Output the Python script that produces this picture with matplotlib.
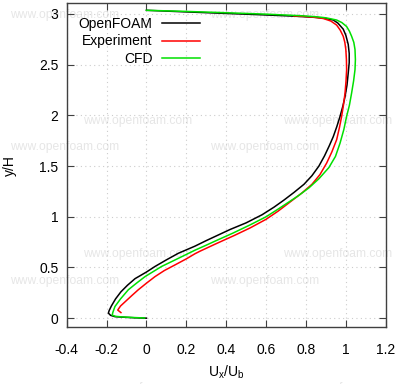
"""Velocity profile U_x/U_b over y/H: OpenFOAM vs experiment vs reference CFD."""
import matplotlib
matplotlib.use("Agg")
import matplotlib.pyplot as plt

plt.rcParams["font.family"] = ["Liberation Sans", "DejaVu Sans"]
plt.rcParams["mathtext.fontset"] = "custom"
plt.rcParams["mathtext.rm"] = "Liberation Sans"
plt.rcParams["mathtext.it"] = "Liberation Sans"

# --- data (x = Ux/Ub, y = y/H) ---
foam_x = [0.0, -0.06, -0.12, -0.158, -0.18, -0.191, -0.187, -0.176, -0.155, -0.128,
          -0.095, -0.057, 0.0, 0.043, 0.1, 0.16, 0.243, 0.3, 0.36, 0.42, 0.5, 0.58,
          0.64, 0.69, 0.74, 0.79, 0.83, 0.865, 0.893, 0.917, 0.937, 0.955, 0.971,
          0.985, 0.996, 1.006, 1.012, 1.017, 1.017, 1.012, 1.0, 0.987, 0.96, 0.937,
          0.9, 0.854, 0.8, 0.72, 0.6, 0.4, 0.2, 0.0]
foam_y = [0.0, 0.004, 0.01, 0.015, 0.028, 0.05, 0.075, 0.12, 0.19, 0.26,
          0.325, 0.39, 0.455, 0.51, 0.575, 0.64, 0.71, 0.765, 0.82, 0.875, 0.94, 1.02,
          1.095, 1.165, 1.24, 1.32, 1.405, 1.5, 1.6, 1.7, 1.79, 1.89, 1.99,
          2.09, 2.185, 2.3, 2.416, 2.52, 2.61, 2.7, 2.79, 2.85, 2.91, 2.94,
          2.955, 2.965, 2.972, 2.98, 2.99, 3.005, 3.02, 3.036]

exp_x = [-0.128, -0.144, -0.13, -0.108, -0.075, -0.041, 0.0, 0.043, 0.09, 0.143,
         0.2, 0.243, 0.268, 0.35, 0.44, 0.52, 0.6, 0.66, 0.72, 0.78, 0.83, 0.87,
         0.904, 0.93, 0.954, 0.968, 0.979, 0.988, 0.996, 1.001, 1.004, 1.003, 1.0,
         0.995, 0.987, 0.972, 0.954, 0.925, 0.887, 0.84, 0.787, 0.74]
exp_y = [0.055, 0.08, 0.12, 0.16, 0.22, 0.28, 0.345, 0.41, 0.47, 0.525,
         0.585, 0.635, 0.66, 0.735, 0.815, 0.89, 0.975, 1.055, 1.145, 1.235, 1.32, 1.415,
         1.53, 1.64, 1.76, 1.88, 1.99, 2.1, 2.22, 2.34, 2.45, 2.55, 2.65,
         2.72, 2.78, 2.84, 2.89, 2.93, 2.955, 2.968, 2.976, 2.98]

cfd_x = [-0.01, -0.06, -0.12, -0.155, -0.172, -0.168, -0.158, -0.13, -0.091, -0.05,
         -0.007, 0.076, 0.16, 0.243, 0.3, 0.35, 0.435, 0.52, 0.6, 0.66, 0.71, 0.76,
         0.815, 0.865, 0.915, 0.948, 0.971, 0.99, 1.004, 1.018, 1.029, 1.039, 1.046,
         1.048, 1.046, 1.04, 1.029, 1.018, 1.004, 0.98, 0.954, 0.9, 0.854, 0.78,
         0.6, 0.4, 0.2, 0.0]
cfd_y = [0.002, 0.006, 0.012, 0.018, 0.03, 0.06, 0.115, 0.19, 0.28, 0.345,
         0.41, 0.51, 0.59, 0.67, 0.72, 0.765, 0.84, 0.92, 1.0, 1.075, 1.14, 1.205,
         1.285, 1.375, 1.485, 1.595, 1.726, 1.86, 1.99, 2.1, 2.22, 2.34, 2.45,
         2.55, 2.65, 2.72, 2.78, 2.83, 2.876, 2.915, 2.94, 2.962, 2.972, 2.982,
         2.998, 3.012, 3.025, 3.036]

x_ticks = [-0.4, -0.2, 0, 0.2, 0.4, 0.6, 0.8, 1, 1.2]
y_ticks = [0, 0.5, 1, 1.5, 2, 2.5, 3]
x_tick_labels = ["-0.4", "-0.2", "0", "0.2", "0.4", "0.6", "0.8", "1", "1.2"]
y_tick_labels = ["0", "0.5", "1", "1.5", "2", "2.5", "3"]

# watermark anchors in figure pixels (left edge, vertical centre)
WATERMARKS = [(10, 15), (210, 15), (83, 121), (283, 121), (10, 147), (210, 147),
              (83, 254), (283, 254), (10, 281), (210, 281), (83, 388), (283, 388)]

W, H = 400, 384
fig = plt.figure(figsize=(W / 100, H / 100), dpi=100)
ax = fig.add_axes([66.7 / W, 1 - 327.3 / H, 319 / W, 324 / H])
ax.set_facecolor("none")

for px, py in WATERMARKS:
    fig.text(px / W, 1 - py / H, "www.openfoam.com", color="#e6e6e6",
             fontsize=8.7, ha="left", va="center", zorder=-1)

ax.plot(foam_x, foam_y, color="black", lw=1.1, label="OpenFOAM")
ax.plot(exp_x, exp_y, color="#ff0000", lw=1.1, label="Experiment")
ax.plot(cfd_x, cfd_y, color="#00e000", lw=1.1, label="CFD")

ax.set_xlim(-0.4, 1.2)
ax.set_ylim(-0.09, 3.105)
ax.set_xticks(x_ticks, x_tick_labels)
ax.set_yticks(y_ticks, y_tick_labels)
ax.tick_params(direction="in", top=True, right=True, length=5, width=0.8,
               color="#404040", labelsize=10)
ax.tick_params(axis="x", pad=11)
ax.tick_params(axis="y", pad=6)
for s in ax.spines.values():
    s.set_color("#404040")
    s.set_linewidth(1.0)
ax.grid(True, color="#cccccc", linestyle=(0, (1, 3)), linewidth=0.8)

ax.set_xlabel(r"U$_\mathrm{x}$/U$_\mathrm{b}$", fontsize=10)
ax.set_ylabel("y/H", fontsize=10)
ax.xaxis.set_label_coords(0.5, -0.112)
ax.yaxis.set_label_coords(-0.155, 0.5)

ax.legend(loc="upper left", bbox_to_anchor=(0.02, 0.975), frameon=False,
          markerfirst=False, fontsize=10, handlelength=2.7, handletextpad=0.7,
          labelspacing=0.25, borderaxespad=0.0)

fig.savefig("out.png", dpi=100)
